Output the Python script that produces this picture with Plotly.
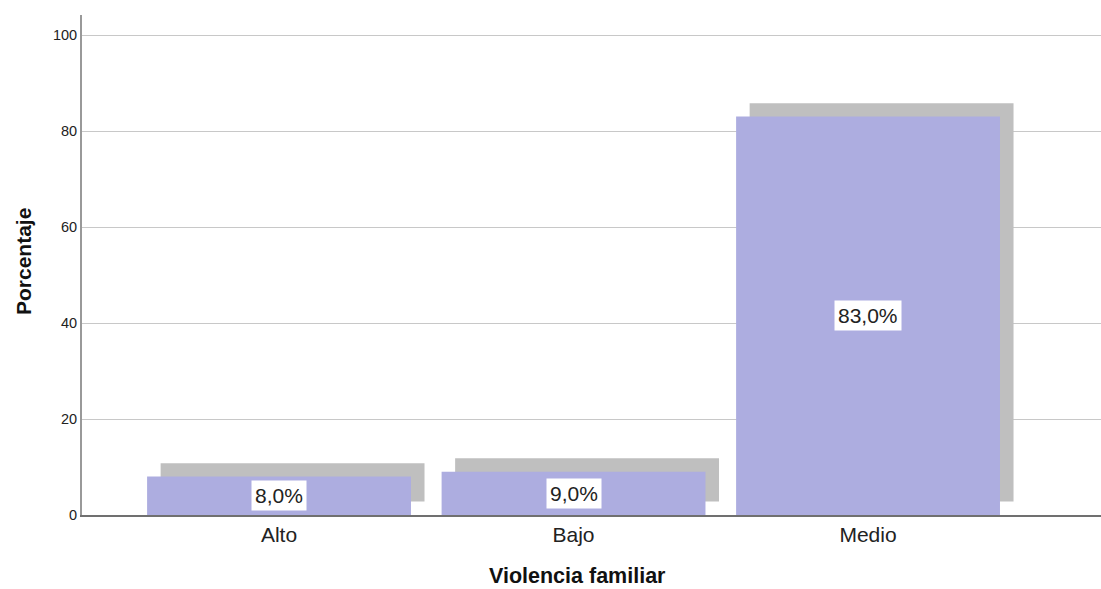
import plotly.graph_objects as go

categories = ["Alto", "Bajo", "Medio"]
percentages = [8.0, 9.0, 83.0]
label_texts = ["8,0%", "9,0%", "83,0%"]
y_ticks = [0, 20, 40, 60, 80, 100]

x_pos = list(range(len(categories)))
bar_w = 0.896
shadow_dx = 0.046
shadow_dy = 2.8

FONT = "Liberation Sans, Arial"

fig = go.Figure()
fig.add_trace(go.Bar(
    x=[p + shadow_dx for p in x_pos], y=percentages, base=[shadow_dy] * len(percentages),
    width=bar_w, marker=dict(color="#bfbfbf", line=dict(width=0)),
    hoverinfo="skip", showlegend=False))
fig.add_trace(go.Bar(
    x=x_pos, y=percentages, width=bar_w,
    marker=dict(color="#adade0", line=dict(width=0)),
    showlegend=False))

for p, v, t in zip(x_pos, percentages, label_texts):
    fig.add_annotation(x=p, y=v / 2, text=t, showarrow=False, xref="x", yref="y",
                       bgcolor="white", borderpad=3,
                       font=dict(family=FONT, size=21, color="#222222"))

plot_w = 1019.0
plot_h = 500.0
fig.add_annotation(x=-59 / plot_w, y=0.5 + 3 / plot_h, xref="paper", yref="paper",
                   text="<b>Porcentaje</b>", showarrow=False, textangle=-90,
                   xanchor="center", yanchor="middle",
                   font=dict(family=FONT, size=21, color="#111111"))
fig.add_annotation(x=(577 - 82) / plot_w, y=-(576 - 515) / plot_h, xref="paper", yref="paper",
                   text="<b>Violencia familiar</b>", showarrow=False,
                   xanchor="center", yanchor="middle",
                   font=dict(family=FONT, size=21.5, color="#111111"))

fig.update_layout(
    width=1101, height=589,
    margin=dict(l=82, r=0, t=15, b=74),
    paper_bgcolor="white", plot_bgcolor="white",
    barmode="overlay",
    font=dict(family=FONT, color="#222222"),
    xaxis=dict(
        range=[-0.669, 2.791], tickmode="array", tickvals=x_pos, ticktext=categories,
        showgrid=False, zeroline=False, showline=True, linecolor="#707070", linewidth=1.5,
        ticks="", tickfont=dict(size=21, color="#222222"),
    ),
    yaxis=dict(
        range=[0, 104.17], tickmode="array", tickvals=y_ticks,
        showgrid=True, gridcolor="#c8c8c8", gridwidth=1.2, zeroline=False,
        showline=True, linecolor="#999999", linewidth=2, ticks="",
        tickfont=dict(size=14.5, color="#222222"),
    ),
)

fig.write_html(
    "out.html",
    config={"displayModeBar": False},
    post_script="document.body.style.margin='0';document.body.style.overflow='hidden';",
)
